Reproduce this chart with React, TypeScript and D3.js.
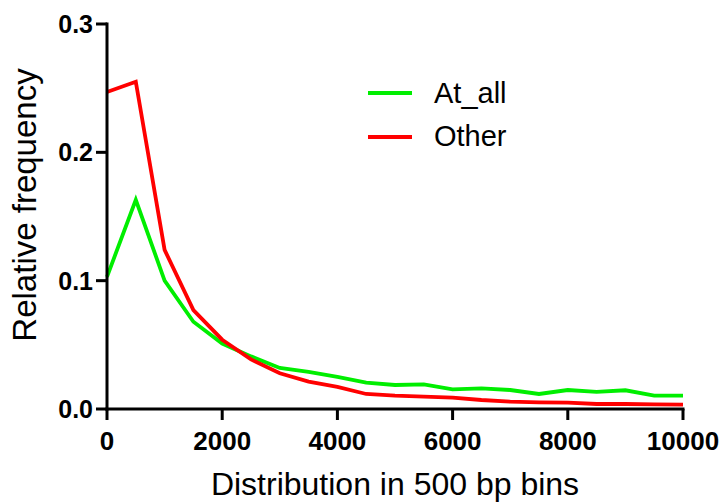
import React from "react";
import * as d3 from "d3";

// Bin start positions (bp) and relative frequencies per series
const bins = [0, 500, 1000, 1500, 2000, 2500, 3000, 3500, 4000, 4500, 5000, 5500, 6000, 6500, 7000, 7500, 8000, 8500, 9000, 9500, 10000];
const atAll = [0.103, 0.163, 0.1, 0.068, 0.051, 0.041, 0.032, 0.029, 0.025, 0.0205, 0.0187, 0.0192, 0.0153, 0.016, 0.0148, 0.0117, 0.0148, 0.0133, 0.0146, 0.0104, 0.0104];
const other = [0.247, 0.255, 0.124, 0.077, 0.054, 0.0387, 0.0278, 0.0213, 0.0172, 0.0117, 0.0104, 0.0096, 0.0088, 0.007, 0.0057, 0.0052, 0.0049, 0.0039, 0.0039, 0.0036, 0.0034];
const xTicks = [0, 2000, 4000, 6000, 8000, 10000];
const yTicks = [0, 0.1, 0.2, 0.3];
const seriesNames = ["At_all", "Other"];
const seriesColors = ["#00ee00", "#ff0000"];

const W = 725;
const H = 502;

export default function App() {
  const x = d3.scaleLinear().domain([0, 10000]).range([107, 683]);
  const y = d3.scaleLinear().domain([0, 0.3]).range([409, 24]);
  const line = d3
    .line<number>()
    .x((_, i) => x(bins[i]))
    .y((d) => y(d));

  const series = [atAll, other];
  const font = "Arial, 'Liberation Sans', sans-serif";

  return (
    <svg
      width={W}
      height={H}
      style={{ position: "absolute", left: 0, top: 0, background: "#fff" }}
      fontFamily={font}
    >
      <rect width={W} height={H} fill="#fff" />
      {series.map((s, k) => (
        <path
          key={k}
          d={line(s) || ""}
          fill="none"
          stroke={seriesColors[k]}
          strokeWidth={3.8}
          strokeLinejoin="miter"
        />
      ))}

      {/* y axis */}
      <line x1={107} x2={107} y1={y(0.3) - 1.5} y2={y(0) + 1.5} stroke="#000" strokeWidth={3} />
      {yTicks.map((t) => (
        <g key={t}>
          <line x1={96} x2={107} y1={y(t)} y2={y(t)} stroke="#000" strokeWidth={3} />
          <text
            x={93}
            y={y(t) + 9}
            textAnchor="end"
            fontSize={25}
            fontWeight="bold"
          >
            {t.toFixed(1)}
          </text>
        </g>
      ))}

      {/* x axis */}
      <line x1={105.5} x2={684.5} y1={409} y2={409} stroke="#000" strokeWidth={3} />
      {xTicks.map((t) => (
        <g key={t}>
          <line x1={x(t)} x2={x(t)} y1={409} y2={420} stroke="#000" strokeWidth={3} />
          <text x={x(t)} y={450} textAnchor="middle" fontSize={26} fontWeight="bold">
            {t}
          </text>
        </g>
      ))}

      <text x={395} y={495} textAnchor="middle" fontSize={32}>
        Distribution in 500 bp bins
      </text>
      <text
        transform={`translate(36,205) rotate(-90)`}
        textAnchor="middle"
        fontSize={33}
      >
        Relative frequency
      </text>

      {/* legend */}
      {seriesNames.map((n, k) => (
        <g key={n}>
          <line
            x1={368}
            x2={412}
            y1={93 + k * 44}
            y2={93 + k * 44}
            stroke={seriesColors[k]}
            strokeWidth={3.8}
          />
          <text x={434} y={103 + k * 43} fontSize={29}>
            {n}
          </text>
        </g>
      ))}
    </svg>
  );
}
